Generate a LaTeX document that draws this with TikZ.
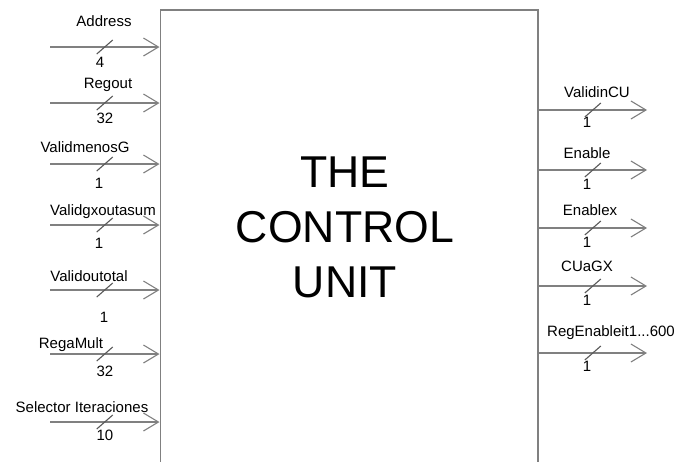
\documentclass[tikz,border=0pt]{standalone}
\usepackage{fontspec}
\setmainfont{Liberation Sans}
\usetikzlibrary{arrows.meta, decorations.markings, positioning}

\tikzset{
  wire/.style = {draw=gray, line width=1.1pt, -{Straight Barb[length=15pt, width=18pt, line width=1.1pt]},
    postaction={decorate, decoration={markings,
      mark=at position 0.5 with {\draw[-, gray!70!black, line width=1.1pt] (-8pt,-7pt) -- (8pt,7pt);}}}},
  portLabel/.style = {font=\fontsize{15}{15}\selectfont, inner sep=0pt},
  unitBox/.style = {draw=gray, line width=1.6pt, anchor=north west, inner sep=0pt}
}

\begin{document}
\begin{tikzpicture}[x=1pt, y=-1pt]
  \useasboundingbox (0,0) rectangle (679,461);

  \node[unitBox, minimum width=377.5pt, minimum height=520pt] (cu) at (159.5,9) {};
  \node[align=center, font=\fontsize{44.6}{55}\selectfont] (cuTitle) at (345,227) {THE\\CONTROL\\UNIT};

  % inputs
  \coordinate (inAddress) at (50,47);
  \draw[wire] (inAddress) -- (cu.west |- inAddress);
  \node[portLabel] (lAddress) at (104,21) {Address};
  \node[portLabel] (wAddress) at (100,62) {4};

  \coordinate (inRegout) at (50,103);
  \draw[wire] (inRegout) -- (cu.west |- inRegout);
  \node[portLabel] (lRegout) at (108,85) {Regout};
  \node[portLabel] (wRegout) at (105,118) {32};

  \coordinate (inValidmenosG) at (50,164);
  \draw[wire] (inValidmenosG) -- (cu.west |- inValidmenosG);
  \node[portLabel] (lValidmenosG) at (85,147) {ValidmenosG};
  \node[portLabel] (wValidmenosG) at (99,183) {1};

  \coordinate (inValidgx) at (50,225);
  \draw[wire] (inValidgx) -- (cu.west |- inValidgx);
  \node[portLabel] (lValidgx) at (103,212) {Validgxoutasum};
  \node[portLabel] (wValidgx) at (99,243) {1};

  \coordinate (inValidoutotal) at (50,290);
  \draw[wire] (inValidoutotal) -- (cu.west |- inValidoutotal);
  \node[portLabel] (lValidoutotal) at (89,276) {Validoutotal};
  \node[portLabel] (wValidoutotal) at (104,317) {1};

  \coordinate (inRegaMult) at (50,354);
  \draw[wire] (inRegaMult) -- (cu.west |- inRegaMult);
  \node[portLabel] (lRegaMult) at (71,345) {RegaMult};
  \node[portLabel] (wRegaMult) at (105,371) {32};

  \coordinate (inSelector) at (50,422);
  \draw[wire] (inSelector) -- (cu.west |- inSelector);
  \node[portLabel] (lSelector) at (82,407) {Selector Iteraciones};
  \node[portLabel] (wSelector) at (105,435) {10};

  % outputs
  \coordinate (outValidinCU) at (647,110);
  \draw[wire] (cu.east |- outValidinCU) -- (outValidinCU);
  \node[portLabel] (lValidinCU) at (597,92) {ValidinCU};
  \node[portLabel] (wValidinCU) at (587,122) {1};

  \coordinate (outEnable) at (647,170);
  \draw[wire] (cu.east |- outEnable) -- (outEnable);
  \node[portLabel] (lEnable) at (587,153) {Enable};
  \node[portLabel] (wEnable) at (587,184) {1};

  \coordinate (outEnablex) at (647,228);
  \draw[wire] (cu.east |- outEnablex) -- (outEnablex);
  \node[portLabel] (lEnablex) at (590,210) {Enablex};
  \node[portLabel] (wEnablex) at (587,242) {1};

  \coordinate (outCUaGX) at (647,286);
  \draw[wire] (cu.east |- outCUaGX) -- (outCUaGX);
  \node[portLabel] (lCUaGX) at (587,266) {CUaGX};
  \node[portLabel] (wCUaGX) at (587,300) {1};

  \coordinate (outRegEnable) at (647,353);
  \draw[wire] (cu.east |- outRegEnable) -- (outRegEnable);
  \node[portLabel] (lRegEnable) at (611,333) {RegEnableit1...600};
  \node[portLabel] (wRegEnable) at (587,366) {1};
\end{tikzpicture}
\end{document}
